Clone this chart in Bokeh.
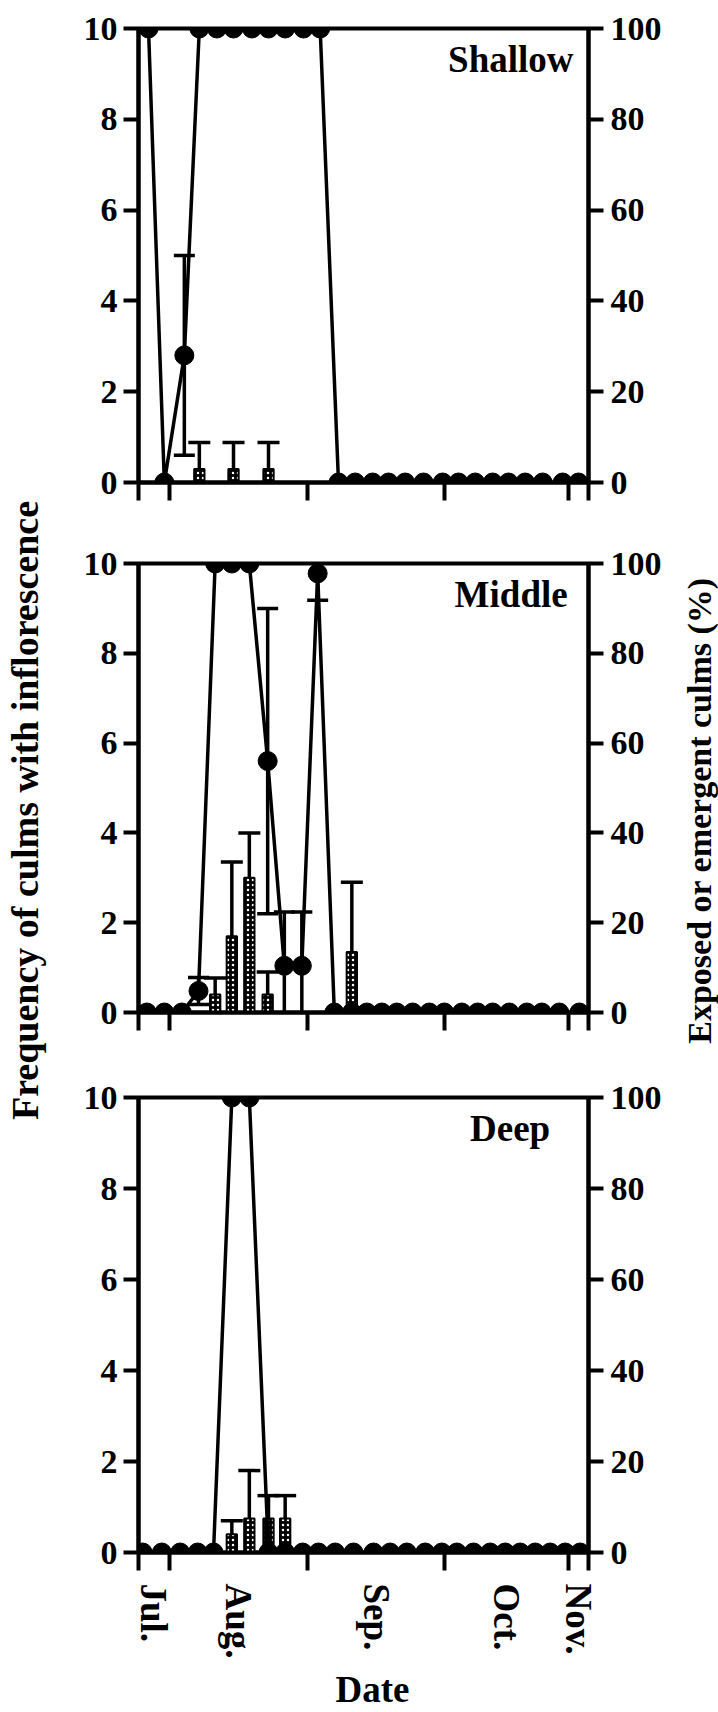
import math

from bokeh.core.properties import value
from bokeh.embed import file_html
from bokeh.layouts import column, row
from bokeh.models import (ColumnDataSource, FixedTicker, Label, LinearAxis,
                          Range1d, TeeHead, Whisker)
from bokeh.plotting import figure
from bokeh.resources import INLINE

FONT = "Liberation Serif"

# x axis: survey occasions; month boundaries given on the same scale
month_names = ["Jul.", "Aug.", "Sep.", "Oct.", "Nov."]
month_bounds = [2.35, 10.65, 18.85, 26.3]
x_start, x_end = 0.5, 27.5

# ---- Shallow -------------------------------------------------------------
shallow_x = [1.1, 2.05, 3.25, 4.15, 5.2, 6.2, 7.3, 8.3, 9.3, 10.4, 11.4,
             12.5, 13.5, 14.55, 15.5, 16.5, 17.6, 18.75, 19.7, 20.7, 21.75,
             22.7, 23.7, 24.75, 25.95, 26.9]
shallow_pct = [100, 0, 28, 100, 100, 100, 100, 100, 100, 100, 100,
               0, 0, 0, 0, 0, 0, 0, 0, 0, 0, 0, 0, 0, 0, 0]
shallow_pct_err = [0, 0, 22, 0, 0, 0, 0, 0, 0, 0, 0,
                   0, 0, 0, 0, 0, 0, 0, 0, 0, 0, 0, 0, 0, 0, 0]
shallow_bar_x = [4.15, 6.2, 8.3]
shallow_freq = [0.3, 0.3, 0.3]
shallow_freq_err = [0.58, 0.58, 0.58]

# ---- Middle --------------------------------------------------------------
middle_x = [1.0, 2.05, 3.1, 4.1, 5.1, 6.1, 7.15, 8.25, 9.25, 10.3, 11.25,
            12.25, 13.3, 14.2, 15.1, 16.0, 16.95, 17.95, 18.85, 19.9, 20.85,
            21.75, 22.75, 23.8, 24.7, 25.75, 26.95]
middle_pct = [0, 0, 0, 4.8, 100, 100, 100, 56, 10.4, 10.4, 97.8,
              0, 0, 0, 0, 0, 0, 0, 0, 0, 0, 0, 0, 0, 0, 0, 0]
middle_pct_err = [0, 0, 0, 3, 0, 0, 0, 34, 12, 12, 6,
                  0, 0, 0, 0, 0, 0, 0, 0, 0, 0, 0, 0, 0, 0, 0, 0]
middle_bar_x = [5.1, 6.1, 7.15, 8.25, 13.3]
middle_freq = [0.4, 1.7, 3.0, 0.4, 1.35]
middle_freq_err = [0.37, 1.65, 1.0, 0.5, 1.55]

# ---- Deep ----------------------------------------------------------------
deep_x = [0.75, 1.9, 3.0, 4.05, 5.0, 6.1, 7.15, 8.3, 9.3, 10.35, 11.3,
          12.3, 13.4, 14.6, 15.6, 16.6, 17.7, 18.7, 19.6, 20.6, 21.6, 22.5,
          23.4, 24.3, 25.2, 26.1, 27.0]
deep_pct = [0, 0, 0, 0, 0, 100, 100, 0, 0, 0, 0, 0, 0, 0, 0, 0, 0, 0, 0,
            0, 0, 0, 0, 0, 0, 0, 0]
deep_pct_err = [0] * 27
deep_bar_x = [6.1, 7.15, 8.3, 9.3]
deep_freq = [0.4, 0.75, 0.75, 0.75]
deep_freq_err = [0.3, 1.05, 0.5, 0.5]

left_ticks = [0, 2, 4, 6, 8, 10]
right_ticks = [0, 20, 40, 60, 80, 100]

STRIP_L = 50
STRIP_R = 46
PANEL_W = 718 - STRIP_L - STRIP_R
FRAME_W = 450
FRAME_LEFT = 138
BORDER_L = FRAME_LEFT - STRIP_L
BORDER_R = PANEL_W - BORDER_L - FRAME_W
AXIS_LW = 4
LW = 3.5


def style_axis(ax, size="34px"):
    ax.axis_line_width = AXIS_LW
    ax.axis_line_color = "black"
    ax.major_tick_line_width = AXIS_LW
    ax.major_tick_line_color = "black"
    ax.minor_tick_line_color = None
    ax.major_tick_out = 15
    ax.major_tick_in = 0
    ax.major_label_text_font = FONT
    ax.major_label_text_font_style = "bold"
    ax.major_label_text_font_size = size
    ax.major_label_text_color = "black"


def panel(name, xs, pct, pct_err, bx, freq, freq_err, border_top,
          frame_h, border_bottom, label_x, bottom=False):
    height = border_top + frame_h + border_bottom
    p = figure(width=PANEL_W, height=height, x_range=Range1d(x_start, x_end),
               y_range=Range1d(0, 10), toolbar_location=None,
               output_backend="svg", min_border_left=BORDER_L,
               min_border_right=BORDER_R,
               min_border_top=border_top, min_border_bottom=border_bottom)
    p.extra_y_ranges = {"pct": Range1d(0, 100)}
    p.grid.visible = False
    p.outline_line_color = "black"
    p.outline_line_width = AXIS_LW
    p.background_fill_color = "white"
    p.border_fill_color = "white"

    # left axis: frequency
    ya = p.yaxis[0]
    ya.ticker = FixedTicker(ticks=left_ticks)
    style_axis(ya)
    ya.major_label_standoff = 6

    # right axis: percentage
    ra = LinearAxis(y_range_name="pct", ticker=FixedTicker(ticks=right_ticks))
    style_axis(ra)
    ra.major_label_standoff = 7
    p.add_layout(ra, "right")

    # bottom axis: month boundaries as outward ticks, names between them
    edges = [x_start] + month_bounds + [x_end]
    mids = [(a + b) / 2 for a, b in zip(edges[:-1], edges[1:])]
    bounds = [x_start + 0.01] + month_bounds + [x_end - 0.01]
    xa = p.xaxis[0]
    style_axis(xa, "37px")
    xa.major_tick_out = 0
    xa.minor_tick_line_color = "black"
    xa.minor_tick_line_width = AXIS_LW
    xa.minor_tick_out = 18
    xa.minor_tick_in = 0
    if bottom:
        xa.ticker = FixedTicker(ticks=mids, minor_ticks=bounds)
        xa.major_label_overrides = {m: n for m, n in zip(mids, month_names)}
        xa.major_label_orientation = "vertical"
        xa.major_label_standoff = 13
    else:
        xa.ticker = FixedTicker(ticks=[], minor_ticks=bounds)

    # hatched bars: frequency of culms with inflorescence
    p.vbar(x=bx, top=freq, bottom=0, width=0.62, fill_color="black",
           line_color="black", line_width=2, hatch_pattern="dot",
           hatch_color="white", hatch_scale=5, hatch_weight=2)
    bar_src = ColumnDataSource(dict(x=bx, lo=freq,
                                    hi=[f + e for f, e in zip(freq, freq_err)]))
    p.add_layout(Whisker(source=bar_src, base="x", lower="lo", upper="hi",
                         line_width=LW, line_color="black",
                         upper_head=TeeHead(size=22, line_width=LW),
                         lower_head=None))

    # line with dots: exposed or emergent culms (%)
    p.line(xs, pct, y_range_name="pct", line_color="black", line_width=LW)
    p.scatter(xs, pct, y_range_name="pct", size=19, fill_color="black",
              line_color="black")
    ex = [x for x, e in zip(xs, pct_err) if e > 0]
    if ex:
        ey = [v for v, e in zip(pct, pct_err) if e > 0]
        ee = [e for e in pct_err if e > 0]
        src = ColumnDataSource(dict(x=ex, lo=[v - e for v, e in zip(ey, ee)],
                                    hi=[v + e for v, e in zip(ey, ee)]))
        p.add_layout(Whisker(source=src, base="x", lower="lo", upper="hi",
                             y_range_name="pct", line_width=LW,
                             line_color="black",
                             upper_head=TeeHead(size=21, line_width=LW),
                             lower_head=TeeHead(size=21, line_width=LW)))

    p.add_layout(Label(x=label_x, y=9.32, text=name, text_align="right",
                       text_baseline="alphabetic", text_font=FONT,
                       text_font_style="bold", text_font_size="37px",
                       text_color="black"))
    return p


p1 = panel("Shallow", shallow_x, shallow_pct, shallow_pct_err, shallow_bar_x,
           shallow_freq, shallow_freq_err, 28, 454, 40, 26.6)
p2 = panel("Middle", middle_x, middle_pct, middle_pct_err, middle_bar_x,
           middle_freq, middle_freq_err, 41, 449, 40, 26.25)
p3 = panel("Deep", deep_x, deep_pct, deep_pct_err, deep_bar_x,
           deep_freq, deep_freq_err, 45, 455, 115, 25.2, bottom=True)

# strip under the panels carrying the x-axis title
DATE_H = 1712 - (28 + 454 + 40) - (41 + 449 + 40) - (45 + 455 + 115)
date_strip = figure(width=PANEL_W, height=DATE_H, x_range=Range1d(0, FRAME_W),
                    y_range=Range1d(0, DATE_H), toolbar_location=None,
                    output_backend="svg", x_axis_type=None, y_axis_type=None,
                    min_border_left=BORDER_L, min_border_right=BORDER_R,
                    min_border_top=0, min_border_bottom=0)
date_strip.grid.visible = False
date_strip.outline_line_color = None
date_strip.text(x=[234], y=[DATE_H - 22], text=["Date"], text_align="center",
                text_baseline="middle", text_font=value(FONT),
                text_font_style="bold", text_font_size="37px",
                text_color="black")


def title_strip(w, text, xc, size):
    s = figure(width=w, height=1712, x_range=Range1d(0, w),
               y_range=Range1d(0, 1712), toolbar_location=None,
               output_backend="svg", x_axis_type=None, y_axis_type=None,
               min_border=0)
    s.grid.visible = False
    s.outline_line_color = None
    s.text(x=[xc], y=[1712 - 810], text=[text], angle=math.pi / 2,
           text_align="center", text_baseline="middle",
           text_font=value(FONT), text_font_style="bold",
           text_font_size=size, text_color="black")
    return s


left = title_strip(STRIP_L, "Frequency of culms with inflorescence", 24, "38px")
right = title_strip(STRIP_R, "Exposed or emergent culms (%)", 27, "34px")

layout = row(left, column(p1, p2, p3, date_strip), right)
open("out.html", "w").write(file_html(layout, INLINE))
